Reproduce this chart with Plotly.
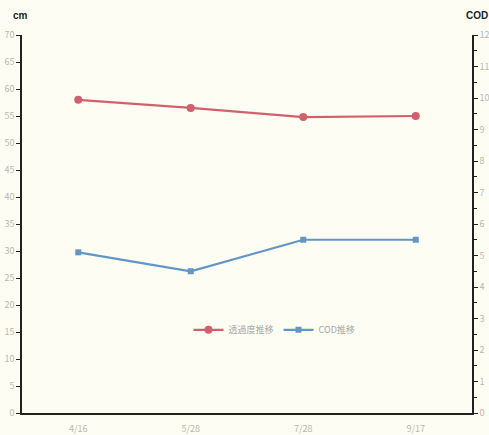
import plotly.graph_objects as go

dates = ["4/16", "5/28", "7/28", "9/17"]
transparency_cm = [58.0, 56.5, 54.8, 55.0]
cod = [5.1, 4.5, 5.5, 5.5]

left_ticks = list(range(0, 75, 5))
right_ticks = list(range(0, 13))

bg = "#fdfdf3"
label_col = "#b8b8b0"

fig = go.Figure()
fig.add_trace(go.Scatter(
    x=dates, y=transparency_cm, name="透過度推移", mode="lines+markers",
    line=dict(color="#d2606c", width=2.2),
    marker=dict(symbol="circle", size=8, color="#d2606c"),
    yaxis="y",
))
fig.add_trace(go.Scatter(
    x=dates, y=cod, name="COD推移", mode="lines+markers",
    line=dict(color="#6396c6", width=2.2),
    marker=dict(symbol="square", size=6, color="#6396c6"),
    yaxis="y2",
))

fig.update_layout(
    width=489, height=435,
    margin=dict(l=22, r=17, t=35, b=22),
    paper_bgcolor=bg, plot_bgcolor=bg,
    font=dict(family="Noto Sans CJK JP", size=9, color=label_col),
    showlegend=True,
    legend=dict(orientation="h", x=0.37, y=0.22, xanchor="left", yanchor="middle",
                bgcolor="rgba(0,0,0,0)", font=dict(size=9, color="#a8a8a8"),
                itemwidth=30),
    xaxis=dict(
        type="category", showgrid=False, zeroline=False, automargin=False,
        showline=True, linecolor="#222", linewidth=1.5,
        ticks="", ticklabelstandoff=6, tickfont=dict(size=9, color=label_col),
        range=[-0.5, 3.5],
    ),
    yaxis=dict(
        range=[0, 70], tickvals=left_ticks, showgrid=False, zeroline=False,
        automargin=False,
        showline=True, linecolor="#222", linewidth=1.5,
        ticks="outside", ticklen=4, tickcolor="#222",
        tickfont=dict(size=9, color=label_col),
    ),
    yaxis2=dict(
        range=[0, 12], tickvals=right_ticks, overlaying="y", side="right",
        showgrid=False, zeroline=False, automargin=False,
        showline=True, linecolor="#222", linewidth=1.5,
        ticks="outside", ticklen=4, tickcolor="#222",
        tickfont=dict(size=9, color=label_col),
        minor=dict(dtick=0.5, ticks="outside", ticklen=3, tickcolor="#222"),
    ),
    annotations=[
        dict(text="<b>cm</b>", x=0, y=1, xref="paper", yref="paper",
             xanchor="center", yanchor="bottom", yshift=12, xshift=-2, showarrow=False,
             font=dict(size=10, color="#222", family="Liberation Sans")),
        dict(text="<b>COD</b>", x=1, y=1, xref="paper", yref="paper",
             xanchor="left", yanchor="bottom", yshift=12, xshift=-8, showarrow=False,
             font=dict(size=10, color="#222", family="Liberation Sans")),
    ],
)

fig.write_html("out.html")
